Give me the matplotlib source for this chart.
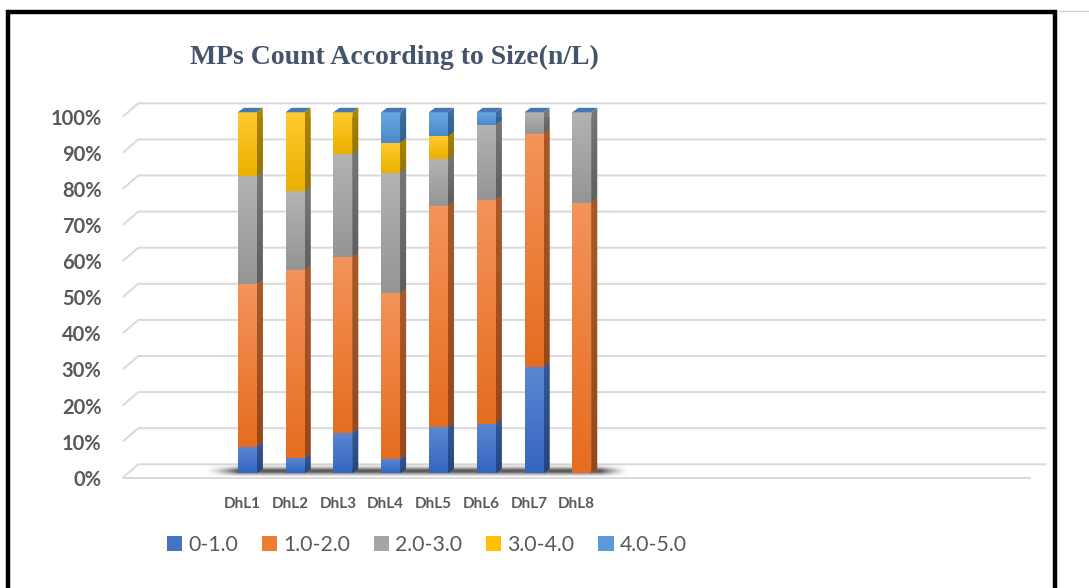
import numpy as np
import matplotlib
matplotlib.use("Agg")
import matplotlib.pyplot as plt
from matplotlib.patches import Polygon, Rectangle, Patch
from matplotlib.lines import Line2D
from matplotlib.transforms import ScaledTranslation
from matplotlib.colors import LinearSegmentedColormap, to_rgb

# ---- data -------------------------------------------------------------
sites = ["DhL1", "DhL2", "DhL3", "DhL4", "DhL5", "DhL6", "DhL7", "DhL8"]
size_classes = ["0-1.0", "1.0-2.0", "2.0-3.0", "3.0-4.0", "4.0-5.0"]

share_0_1 = [7.4, 4.2, 11.2, 4.0, 12.7, 13.7, 29.4, 0.0]
share_1_2 = [45.0, 52.2, 48.7, 45.9, 61.4, 62.0, 64.7, 75.0]
share_2_3 = [30.0, 21.8, 28.5, 33.4, 13.0, 20.9, 5.9, 25.0]
share_3_4 = [17.6, 21.8, 11.6, 8.3, 6.3, 0.0, 0.0, 0.0]
share_4_5 = [0.0, 0.0, 0.0, 8.4, 6.6, 3.4, 0.0, 0.0]

y_ticks = [0, 10, 20, 30, 40, 50, 60, 70, 80, 90, 100]
y_tick_labels = [f"{v}%" for v in y_ticks]

title = "MPs Count According to Size(n/L)"

# ---- styling ------------------------------------------------------------
base_colors = ["#4472C4", "#ED7D31", "#A5A5A5", "#FFC000", "#5B9BD5"]
front_grad = [("#5B87D2", "#3565C0"), ("#F4935A", "#E56D1F"),
              ("#B3B3B3", "#959595"), ("#FFCA2E", "#EBB000"),
              ("#6AA7DF", "#4A8ACB")]
side_grad = [("#34589A", "#26457F"), ("#A95A28", "#96481A"),
             ("#777777", "#5E5E5E"), ("#A98500", "#957400"),
             ("#3E6E9E", "#31618E")]
top_color = "#4479B1"
grid_color = "#D9D9D9"
text_color = "#595959"

plt.rcParams["font.family"] = ["Lato", "DejaVu Sans"]

W, H, DPI = 1089, 588, 100
fig = plt.figure(figsize=(W / DPI, H / DPI), dpi=DPI)
fig.patch.set_facecolor("white")

# front plane of the 3-D box, in pixels
ax_left, ax_right = 122.7, 1030.7
ax_top, ax_bottom = 116.7, 477.7
ax = fig.add_axes([ax_left / W, (H - ax_bottom) / H,
                   (ax_right - ax_left) / W, (ax_bottom - ax_top) / H])
ax.set_autoscale_on(False)
xmin, xmax = -2.5, 16.5
ax.set_xlim(xmin, xmax)
ax.set_ylim(0, 100)
ax.patch.set_alpha(0)
for s in ax.spines.values():
    s.set_visible(False)

px_x = (ax_right - ax_left) / (xmax - xmin)   # pixels per category
px_y = (ax_bottom - ax_top) / 100.0           # pixels per percent

# depth offsets (pixels): back wall, bar row, bar thickness
wall_dx, wall_dy = 15.6, 13.4
row_dx, row_dy = 5.1, 4.4
depth_dx, depth_dy = 6.0, 4.5

# ---- back wall gridlines and floor -------------------------------------
gx, gy = wall_dx / px_x, wall_dy / px_y
for v in y_ticks:
    ax.plot([xmin, xmin + gx, xmax + gx], [v, v + gy, v + gy],
            color=grid_color, lw=1.4, clip_on=False, zorder=1,
            solid_capstyle="butt")
ax.plot([xmin, xmax], [0, 0], color=grid_color, lw=1.4, clip_on=False,
        zorder=1, solid_capstyle="butt")

bar_tr = ax.transData + ScaledTranslation(row_dx / DPI, row_dy / DPI,
                                          fig.dpi_scale_trans)

# soft shadow cast on the floor beneath the bars
nx, ny = 400, 60
xs = np.linspace(-0.9, 8.0, nx)
ys = np.linspace(-0.8, 2.8, ny)
fade_l = np.clip((xs + 0.9) / 0.7, 0, 1)
fade_r = np.clip((8.0 - xs) / 0.6, 0, 1)
prof_x = np.minimum(fade_l, fade_r) ** 1.5
prof_y = np.exp(-0.5 * ((ys - 0.6) / 0.7) ** 2)
shadow = np.zeros((ny, nx, 4))
shadow[..., :3] = to_rgb("#2E2E2E")
shadow[..., 3] = 0.8 * np.outer(prof_y, prof_x)
ax.imshow(shadow, extent=(xs[0], xs[-1], ys[0], ys[-1]), origin="lower",
          aspect="auto", transform=bar_tr, zorder=1.5, clip_on=False,
          interpolation="bilinear")


def gradient_fill(patch, top, bottom, extent, z):
    cmap = LinearSegmentedColormap.from_list("g", [bottom, top])
    im = ax.imshow(np.linspace(0, 1, 64).reshape(-1, 1), cmap=cmap,
                   extent=extent, origin="lower", aspect="auto",
                   transform=bar_tr, zorder=z, interpolation="bilinear")
    im.set_clip_path(patch)


# ---- stacked 3-D bars ---------------------------------------------------
series = [share_0_1, share_1_2, share_2_3, share_3_4, share_4_5]
bar_w = 19.0 / px_x
sdx, sdy = depth_dx / px_x, depth_dy / px_y
xpos = np.arange(len(sites))
bottoms = np.zeros(len(sites))

for k, vals in enumerate(series):
    vals = np.asarray(vals, dtype=float)
    bars = ax.bar(xpos, vals, width=bar_w, bottom=bottoms,
                  color=base_colors[k], linewidth=0, transform=bar_tr,
                  clip_on=False, zorder=2)
    for rect, b, v in zip(bars, bottoms, vals):
        if v <= 0:
            rect.set_visible(False)
            continue
        x0 = rect.get_x()
        x1 = x0 + rect.get_width()
        t = b + v
        gradient_fill(rect, *front_grad[k], (x0, x1, b, t), 2.1)
        side = Polygon([(x1, b), (x1 + sdx, b + sdy), (x1 + sdx, t + sdy),
                        (x1, t)], closed=True, facecolor=side_grad[k][0],
                       edgecolor="none", transform=bar_tr, clip_on=False,
                       zorder=2)
        ax.add_patch(side)
        gradient_fill(side, *side_grad[k], (x1, x1 + sdx, b, t + sdy), 2.1)
    bottoms = bottoms + vals

# top caps
for xc, t in zip(xpos, bottoms):
    x0, x1 = xc - bar_w / 2, xc + bar_w / 2
    cap = Polygon([(x0, t), (x1, t), (x1 + sdx, t + sdy), (x0 + sdx, t + sdy)],
                  closed=True, facecolor=top_color, edgecolor="none",
                  transform=bar_tr, clip_on=False, zorder=2.2)
    ax.add_patch(cap)

# ---- axes text ----------------------------------------------------------
ax.set_yticks(y_ticks, y_tick_labels)
ax.tick_params(axis="y", length=0, pad=15.2, labelsize=14.5,
               labelcolor=text_color)
ax.set_xticks(xpos, sites)
ax.tick_params(axis="x", length=0, pad=14, labelsize=11,
               labelcolor=text_color)
for lbl in ax.get_yticklabels() + ax.get_xticklabels():
    lbl.set_fontweight("bold")

fig.text(394 / W, 1 - 57.5 / H, title, ha="center", va="center",
         family="Liberation Serif", weight="bold", size=20, color="#44546A")

handles = [Patch(facecolor=c, edgecolor="none") for c in base_colors]
fig.legend(handles, size_classes, ncol=5, loc="center left",
           bbox_to_anchor=(167 / W, 1 - 545 / H), frameon=False,
           fontsize=15.3, handlelength=0.72, handleheight=0.72,
           handletextpad=0.27, columnspacing=1.13, borderpad=0,
           borderaxespad=0, labelcolor=text_color)

# ---- chart frame --------------------------------------------------------
fig.add_artist(Rectangle((7.5 / W, -0.05), (1054.5 - 7.5) / W,
                         1.05 - 12.0 / H, transform=fig.transFigure,
                         fill=False, edgecolor="black", lw=3.2))
fig.add_artist(Line2D([1059 / W, 1.0], [1 - 10.5 / H, 1 - 10.5 / H],
                      transform=fig.transFigure, color="#D0D0D0", lw=1.0))

fig.savefig("out.png", dpi=DPI)
